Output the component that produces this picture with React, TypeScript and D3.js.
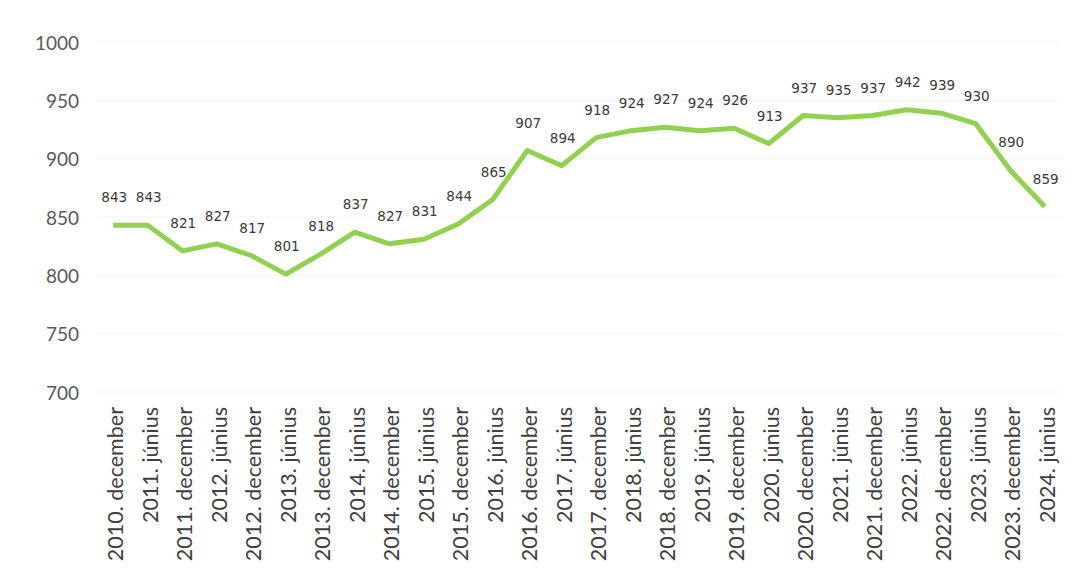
import React from "react";
import * as d3 from "d3";

const categories: string[] = [
  "2010. december", "2011. június", "2011. december", "2012. június",
  "2012. december", "2013. június", "2013. december", "2014. június",
  "2014. december", "2015. június", "2015. december", "2016. június",
  "2016. december", "2017. június", "2017. december", "2018. június",
  "2018. december", "2019. június", "2019. december", "2020. június",
  "2020. december", "2021. június", "2021. december", "2022. június",
  "2022. december", "2023. június", "2023. december", "2024. június",
];

const values: number[] = [
  843, 843, 821, 827, 817, 801, 818, 837, 827, 831, 844, 865, 907, 894,
  918, 924, 927, 924, 926, 913, 937, 935, 937, 942, 939, 930, 890, 859,
];

const yTicks: number[] = [700, 750, 800, 850, 900, 950, 1000];

const W = 1079;
const H = 578;

export default function App() {
  const x = d3.scaleBand<string>().domain(categories).range([96, 1062]);
  const y = d3.scaleLinear().domain([700, 1000]).range([392, 42]);
  const cx = (c: string) => (x(c) as number) + x.bandwidth() / 2;

  const line = d3
    .line<number>()
    .x((_, i) => cx(categories[i]))
    .y((d) => y(d));

  return (
    <div style={{ position: "absolute", left: 0, top: 0, width: W, height: H, background: "#fff" }}>
      <svg width={W} height={H} style={{ display: "block" }}>
        <rect x={0} y={0} width={W} height={H} fill="#ffffff" />
        {yTicks.map((t) => (
          <g key={t}>
            <line x1={96} x2={1062} y1={y(t)} y2={y(t)} stroke="#f3f3f3" strokeWidth={1} />
            <text
              x={79}
              y={y(t)}
              textAnchor="end"
              dominantBaseline="central"
              fontFamily="Lato, 'Open Sans', sans-serif"
              fontSize={19}
              fill="#595959"
            >
              {t}
            </text>
          </g>
        ))}
        {categories.map((c) => (
          <text
            key={c}
            transform={`translate(${cx(c) + 2},407) rotate(-90)`}
            textAnchor="end"
            dominantBaseline="central"
            fontFamily="Lato, 'Open Sans', sans-serif"
            fontSize={21.5}
            fill="#404040"
          >
            {c}
          </text>
        ))}
        <path
          d={line(values) || ""}
          fill="none"
          stroke="#92d050"
          strokeWidth={5}
          strokeLinejoin="round"
          strokeLinecap="butt"
        />
        {values.map((v, i) => (
          <text
            key={i}
            x={cx(categories[i]) + 1}
            y={y(v) - 23}
            textAnchor="middle"
            fontFamily="'DejaVu Sans', Verdana, sans-serif"
            fontSize={13.5}
            fill="#3a3a3a"
          >
            {v}
          </text>
        ))}
      </svg>
    </div>
  );
}
